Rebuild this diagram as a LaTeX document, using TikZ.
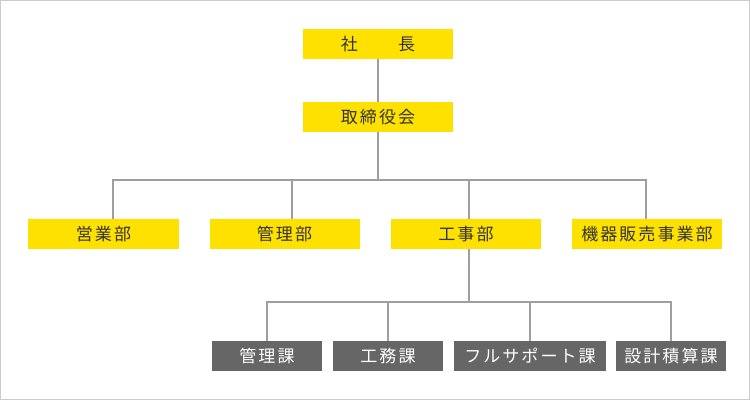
\documentclass[tikz,border=0pt]{standalone}
\usepackage{fontspec}
\newfontfamily\jp[LetterSpace=12]{Noto Sans CJK JP}
\definecolor{yel}{HTML}{FFE100}
\definecolor{dgr}{HTML}{666666}
\definecolor{txt}{HTML}{333333}
\definecolor{lin}{HTML}{9E9E9E}
\definecolor{bord}{HTML}{CCCCCC}
\begin{document}
\begin{tikzpicture}[x=1bp,y=-1bp,
  ybox/.style={fill=yel, minimum width=150bp, minimum height=30bp, inner sep=0pt,
    font=\jp\fontsize{17bp}{17bp}\selectfont, text=txt},
  gbox/.style={fill=dgr, minimum height=30bp, inner sep=0pt,
    font=\jp\fontsize{17bp}{17bp}\selectfont, text=white},
  conn/.style={draw=lin, line width=2bp}]
\useasboundingbox (0,0) rectangle (750,400);
\draw[draw=bord, line width=1bp] (0.5,0.5) rectangle (749.5,399.5);

% level 1
\node[ybox] (pres) at (378,44) {社　　長};
\node[ybox] (board) at (378,117) {取締役会};

% level 2
\node[ybox] (eigyo) at (103.5,234) {営業部};
\node[ybox] (kanri) at (284.5,234) {管理部};
\node[ybox] (koji) at (466,234) {工事部};
\node[ybox] (kiki) at (647,234) {機器販売事業部};

% level 3
\node[gbox, minimum width=110bp] (kanrika) at (267,356) {管理課};
\node[gbox, minimum width=110bp] (komuka) at (388,356) {工務課};
\node[gbox, minimum width=152bp] (fullka) at (530,356) {フルサポート課};
\node[gbox, minimum width=110bp] (sekkeika) at (671,356) {設計積算課};

% bus coordinates
\coordinate (b1) at (378,180);
\coordinate (b1a) at (113,180);
\coordinate (b1b) at (292,180);
\coordinate (b1c) at (469,180);
\coordinate (b1d) at (646,180);
\coordinate (b2) at (469,302);
\coordinate (b2a) at (267,302);
\coordinate (b2d) at (671,302);

% connectors
\draw[conn] (pres.south) -- (board.north);
\draw[conn] (board.south) -- (b1);
\draw[conn] (b1a |- eigyo.north) -- (b1a) -- (b1d) -- (b1d |- kiki.north);
\draw[conn] (b1b) -- (b1b |- kanri.north);
\draw[conn] (b1c) -- (b1c |- koji.north);
\draw[conn] (b1c |- koji.south) -- (b2);
\draw[conn] (kanrika.north) -- (b2a) -- (b2d) -- (sekkeika.north);
\draw[conn] (komuka.north) -- (komuka.north |- b2);
\draw[conn] (fullka.north) -- (fullka.north |- b2);
\end{tikzpicture}
\end{document}
